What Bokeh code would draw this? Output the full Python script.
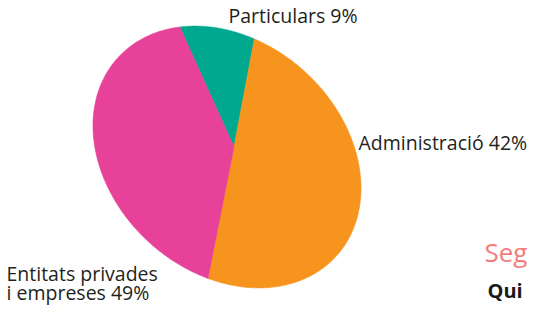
import numpy as np
from bokeh.plotting import figure
from bokeh.models import Range1d
from bokeh.embed import file_html
from bokeh.resources import INLINE
from bokeh.core.properties import value

# ---------------- data (slices clockwise from the top) ----------------
categories = ["Particulars", "Entitats privades\ni empreses", "Administració"]
shares = [9, 49, 42]
slice_colors = ["#00a88f", "#f7941e", "#e8419a"]

side_title = "Seg"
side_subtitle = "Qui"

# ---------------- layout / style ----------------
PW, PH = 529, 305
p = figure(width=PW, height=PH, x_range=Range1d(0, PW), y_range=Range1d(PH, 0),
           output_backend="svg", toolbar_location=None, min_border=0)
p.xaxis.visible = False
p.yaxis.visible = False
p.grid.visible = False
p.outline_line_color = None
p.background_fill_color = "white"
p.border_fill_color = "white"

# tilted elliptical pie
cx, cy = 226.5, 156.5
ra, rb = 147.5, 115.5
tilt = np.radians(42.2)
apex_x, apex_y = 233.5, 146.5
start = np.radians(-146.0)

total = float(sum(shares))
edges = start + 2 * np.pi * np.concatenate([[0.0], np.cumsum(shares)]) / total
xs, ys = [], []
for i in range(len(shares)):
    t = np.linspace(edges[i], edges[i + 1], 200)
    ex = cx + ra * np.cos(t) * np.cos(tilt) - rb * np.sin(t) * np.sin(tilt)
    ey = cy + ra * np.cos(t) * np.sin(tilt) + rb * np.sin(t) * np.cos(tilt)
    xs.append(np.concatenate([[apex_x], ex]).tolist())
    ys.append(np.concatenate([[apex_y], ey]).tolist())

p.patches(xs=xs, ys=ys, fill_color=slice_colors, line_color=slice_colors, line_width=0.6)

# slice labels
label_anchor = [(228, 15), (6, 272.5), (358, 142)]
line_gap = 19
tx, ty, tt = [], [], []
for (name, share, (lx, ly)) in zip(categories, shares, label_anchor):
    lines = f"{name} {share}%".split("\n")
    for k, ln in enumerate(lines):
        tx.append(lx)
        ty.append(ly + k * line_gap)
        tt.append(ln)
p.text(x=tx, y=ty, text=tt, text_font=value("Open Sans"), text_font_size="19.5px",
       text_color="#231f20", text_baseline="alphabetic", text_align="left")

# texts from the page beside the chart
p.text(x=[484], y=[251], text=[side_title], text_font=value("Open Sans"), text_font_size="26px",
       text_color="#f47c7c", text_baseline="alphabetic", text_align="left")
p.text(x=[487], y=[290], text=[side_subtitle], text_font=value("Open Sans"), text_font_size="20px",
       text_font_style="bold", text_color="#1a1a1a", text_baseline="alphabetic", text_align="left")

open("out.html", "w").write(file_html(p, INLINE))
